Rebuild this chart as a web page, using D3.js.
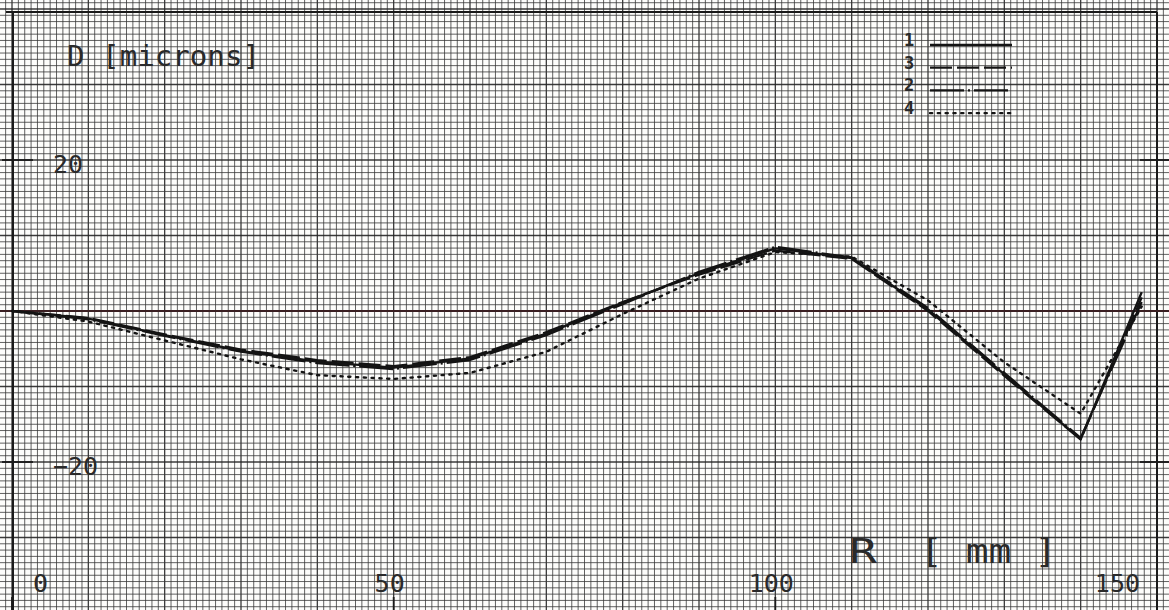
<!DOCTYPE html>
<html>
<head>
<meta charset="utf-8">
<script src="https://cdn.jsdelivr.net/npm/d3@7"></script>
<style>
  html, body { margin: 0; padding: 0; background: #fdfdfb; }
  svg { display: block; }
  text { font-family: "DejaVu Sans Mono", "Liberation Mono", monospace; fill: #2a2a2a; }
</style>
</head>
<body>
<svg id="chart" width="1169" height="610"></svg>
<script>
// ---- data ----
const radius = [0, 10, 20, 30, 40, 50, 60, 70, 80, 90, 100, 110, 120, 130, 140, 148];
const series1 = [0, -1.0, -3.2, -5.3, -6.7, -7.5, -6.3, -3.0, 1.1, 5.0, 8.3, 7.0, 0.2, -8.4, -17.0, 2.5];
const series3 = [0, -0.9, -3.1, -5.1, -6.5, -7.3, -6.1, -2.8, 1.2, 4.8, 8.0, 6.9, 0.0, -8.6, -17.0, 1.8];
const series2 = [0, -1.1, -3.3, -5.4, -6.9, -7.7, -6.5, -3.2, 0.9, 5.2, 8.5, 7.1, 0.4, -8.2, -16.8, 1.2];
const series4 = [0, -1.4, -3.9, -6.4, -8.5, -9.0, -8.2, -5.4, -0.4, 4.3, 7.8, 7.2, 1.4, -6.8, -13.6, 0.6];
const legendNames = ["1", "3", "2", "4"];
const xTickValues = [0, 50, 100, 150];
const yTickValues = [20, -20];
const xAxisSymbol = "R";
const xAxisUnit = "[ mm ]";
const yAxisTitle = "D [microns]";

const seriesByName = { "1": series1, "3": series3, "2": series2, "4": series4 };
const dashByName = { "1": null, "3": "22,5", "2": "34,4,2,4", "4": "2.2,5.6" };
const widthByName = { "1": 2.4, "3": 2.2, "2": 2.2, "4": 2.4 };
const drawOrder = ["4", "2", "3", "1"];

// ---- scales ----
const W = 1169, H = 610;
const svg = d3.select("#chart");
const x = d3.scaleLinear().domain([0, 150]).range([12, 1157]);
const y = d3.scaleLinear().domain([-40, 40]).range([613, 9]);

svg.append("rect").attr("width", W).attr("height", H).attr("fill", "#fdfdfb");

// ---- graph paper ----
const step = 10 / 12;
const xMin = x.invert(0), xMax = x.invert(W);
const yMin = y.invert(H), yMax = y.invert(0);
const gx = d3.range(Math.ceil(xMin / step), Math.floor(xMax / step) + 1).map(k => k * step);
const gy = d3.range(Math.ceil(yMin / step), Math.floor(yMax / step) + 1).map(k => k * step);
const isMajor = v => Math.abs(v / 10 - Math.round(v / 10)) < 1e-6;

const grid = svg.append("g");
grid.selectAll("line.vx").data(gx).join("line")
  .attr("x1", d => x(d)).attr("x2", d => x(d)).attr("y1", 0).attr("y2", H)
  .attr("stroke", d => isMajor(d) ? "#262626" : "#363636")
  .attr("stroke-width", d => isMajor(d) ? 1.3 : 1)
  .attr("stroke-opacity", d => isMajor(d) ? 0.9 : 0.78);
grid.selectAll("line.hy").data(gy).join("line")
  .attr("y1", d => y(d)).attr("y2", d => y(d)).attr("x1", 0).attr("x2", W)
  .attr("stroke", d => isMajor(d) ? "#262626" : "#363636")
  .attr("stroke-width", d => isMajor(d) ? 1.3 : 1)
  .attr("stroke-opacity", d => isMajor(d) ? 0.9 : 0.78);

// ---- frame & axes ----
const frame = svg.append("g").attr("stroke", "#1a1a1a").attr("fill", "none");
frame.append("line").attr("x1", x(0) + 1).attr("x2", x(0) + 1).attr("y1", y(39.6)).attr("y2", H).attr("stroke-width", 2);
frame.append("line").attr("x1", x(150)).attr("x2", x(150)).attr("y1", y(39.6)).attr("y2", H).attr("stroke-width", 2);
frame.append("line").attr("x1", x(0) - 6).attr("x2", x(150)).attr("y1", y(39.6)).attr("y2", y(39.6)).attr("stroke-width", 2);
frame.append("line").attr("x1", 0).attr("x2", W).attr("y1", y(0)).attr("y2", y(0)).attr("stroke-width", 1.8).attr("stroke", "#3a1f22");

// y ticks, both sides
frame.selectAll("line.ytl").data(yTickValues).join("line")
  .attr("x1", x(0) - 10).attr("x2", x(0) + 21).attr("y1", d => y(d)).attr("y2", d => y(d)).attr("stroke-width", 1.8);
frame.selectAll("line.ytr").data(yTickValues).join("line")
  .attr("x1", x(150) - 17).attr("x2", x(150) + 12).attr("y1", d => y(d)).attr("y2", d => y(d)).attr("stroke-width", 1.8);
// x ticks at bottom
frame.selectAll("line.xt").data(xTickValues).join("line")
  .attr("x1", d => x(d)).attr("x2", d => x(d)).attr("y1", y(-40)).attr("y2", y(-40) - 16).attr("stroke-width", 1.8);

// tick labels
svg.selectAll("text.yl").data(yTickValues).join("text")
  .attr("x", x(0) + 41).attr("y", d => y(d) + 13)
  .attr("font-size", 25)
  .text(d => d < 0 ? "\u2212" + Math.abs(d) : String(d));

svg.selectAll("text.xl").data(xTickValues).join("text")
  .attr("x", (d, i) => i === 0 ? x(d) + 21 : (i === xTickValues.length - 1 ? x(d) - 17 : x(d) - 4))
  .attr("y", y(-40) - 21)
  .attr("font-size", 25)
  .attr("text-anchor", (d, i) => i === 0 ? "start" : (i === xTickValues.length - 1 ? "end" : "middle"))
  .text(d => String(d));

// axis titles
svg.append("text").attr("x", 67).attr("y", 66).attr("font-size", 29)
  .attr("textLength", 193).attr("lengthAdjust", "spacingAndGlyphs").text(yAxisTitle);
svg.append("text").attr("x", 849).attr("y", 563).attr("font-size", 34)
  .attr("textLength", 28).attr("lengthAdjust", "spacingAndGlyphs").text(xAxisSymbol);
svg.append("text").attr("x", 920).attr("y", 563).attr("font-size", 34)
  .attr("textLength", 137).attr("lengthAdjust", "spacingAndGlyphs").text(xAxisUnit);

// ---- curves ----
const line = d3.line().x(d => x(d[0])).y(d => y(d[1])).curve(d3.curveLinear);
const curves = svg.append("g");
drawOrder.forEach(name => {
  const pts = radius.map((r, i) => [r, seriesByName[name][i]]);
  curves.append("path").datum(pts)
    .attr("d", line)
    .attr("fill", "none")
    .attr("stroke", "#141414")
    .attr("stroke-width", widthByName[name])
    .attr("stroke-linejoin", "round")
    .attr("stroke-linecap", name === "4" ? "round" : "butt")
    .attr("stroke-dasharray", dashByName[name]);
});

// ---- legend ----
const legend = svg.append("g");
legendNames.forEach((name, i) => {
  const ly = 45 + i * 22.7;
  legend.append("text").attr("x", 904).attr("y", ly + 1)
    .attr("font-size", 17).attr("font-weight", "bold").text(name);
  legend.append("line")
    .attr("x1", 930).attr("x2", 1012).attr("y1", ly).attr("y2", ly)
    .attr("stroke", "#141414").attr("stroke-width", widthByName[name])
    .attr("stroke-linecap", name === "4" ? "round" : "butt")
    .attr("stroke-dasharray", dashByName[name]);
});
</script>
</body>
</html>
